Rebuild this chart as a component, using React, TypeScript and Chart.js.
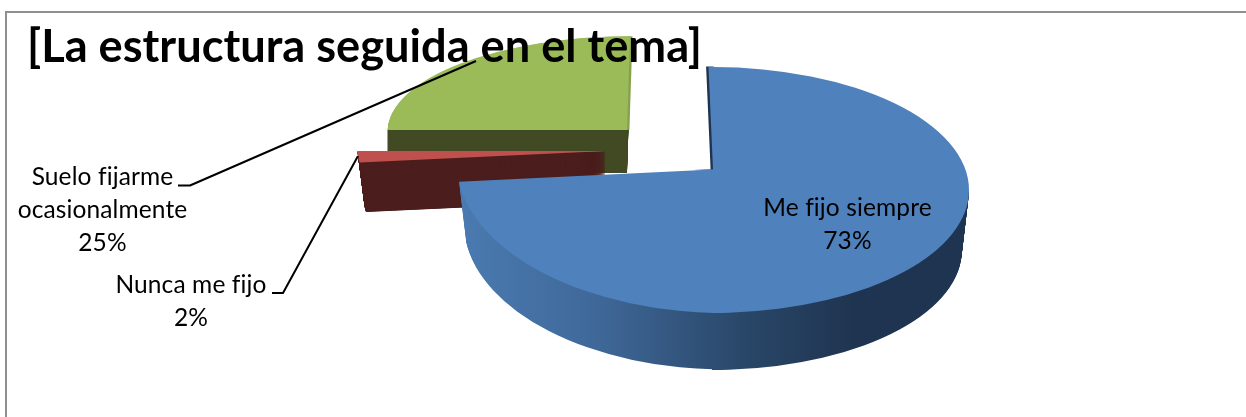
import React, { useEffect, useRef } from "react";
import { Chart, registerables } from "chart.js";

Chart.register(...registerables);

const titleText = "[La estructura seguida en el tema]";
const categories = ["Me fijo siempre", "Nunca me fijo", "Suelo fijarme ocasionalmente"];
const seriesValues = [73, 2, 25];
const labelLines = [["Me fijo siempre"], ["Nunca me fijo"], ["Suelo fijarme", "ocasionalmente"]];

const topColors = ["#4F81BD", "#C0504D", "#9BBB59"];
const FONT = "Lato, 'Open Sans', sans-serif";
const BASE_R = 256;

// how each slice is laid in the tilted, exploded 3D view
const views = [
  { ax: 713, ay: 169.5, sx: 1, syUp: 0.402, syDown: 0.56, skew: 0.023, shearUp: 0.0176, depth: 60.5, shrink: 0.028, step: 1 },
  { ax: 606, ay: 151, sx: 0.97, syUp: 0.355, syDown: 0.355, skew: 0, shearUp: 0, depth: 50, shrink: 0.026, step: 0.25 },
  { ax: 627, ay: 130, sx: 0.935, syUp: 0.366, syDown: 0.366, skew: 0, shearUp: -0.012, depth: 43, shrink: 0, step: 1 },
];
// the big slice's right half follows an ellipse whose centre sits lower than the cut point
const bigRightView = { ax: 713, ay: 190, sx: 1, syUp: 0.48, syDown: 0.48, skew: 0, shearUp: 0 };
const SPLIT_X = 713;

const labelStyles = [
  { x: 847.5, y: 216, lh: 33 },
  { x: 191, y: 293, lh: 33 },
  { x: 102.5, y: 185, lh: 33 },
];
const leaders: number[][][] = [
  [],
  [[272, 293], [283, 293], [358, 156]],
  [[178, 185.5], [190, 185.5], [476, 61]],
];

const blueSideStops: [number, string][] = [
  [0, "#4a7ab0"],
  [0.27, "#3f6899"],
  [0.55, "#2a486a"],
  [0.78, "#1f3450"],
  [1, "#1f3450"],
];
const sideColors: (string | null)[] = [null, "#4d1f1f", "#414a22"];
const rimColors = ["#1f3450", null, "#87a04e"];

function applyView(ctx: any, arc: any, v: any, dy: number, shrink: number, up: boolean) {
  ctx.translate(v.ax, v.ay + dy);
  const k = 1 - shrink;
  ctx.transform(v.sx * k, v.skew * k, up ? v.shearUp : 0, (up ? v.syUp : v.syDown) * k, 0, 0);
  ctx.translate(-arc.x, -arc.y);
}

function drawArc(ctx: any, arc: any, fill: any) {
  const clone = Object.create(arc, {
    options: { value: { ...arc.options, backgroundColor: fill, borderWidth: 0 }, writable: true },
  });
  clone.draw(ctx);
}

// device-space x limits let the big slice be built from separate pieces
function drawHalf(
  ctx: any, arc: any, v: any, up: boolean, dy: number, shrink: number, fill: any,
  dx = 0, xMin = -Infinity, xMax = Infinity
) {
  ctx.save();
  if (xMin !== -Infinity || xMax !== Infinity) {
    const l = Math.max(xMin, 0);
    const r = Math.min(xMax, 5000);
    ctx.beginPath();
    ctx.rect(l, 0, r - l, 5000);
    ctx.clip();
  }
  ctx.translate(dx, 0);
  applyView(ctx, arc, v, dy, shrink, up);
  ctx.beginPath();
  // the upper half runs slightly past the seam so that the lower half covers it
  if (up) ctx.rect(arc.x - 3000, arc.y - 3000, 6000, 3002);
  else ctx.rect(arc.x - 3000, arc.y, 6000, 3000);
  ctx.clip();
  drawArc(ctx, arc, fill);
  ctx.restore();
}

const pie3d = {
  id: "pie3d",
  beforeLayout(chart: any) {
    const block = chart.titleBlock;
    if (block) block._layers = () => [{ z: 5, draw: () => block.draw() }];
  },
  beforeDraw(chart: any) {
    const ctx = chart.ctx;
    ctx.save();
    ctx.fillStyle = "#ffffff";
    ctx.fillRect(0, 0, chart.width, chart.height);
    ctx.strokeStyle = "#8f8f8f";
    ctx.lineWidth = 2;
    ctx.beginPath();
    ctx.moveTo(6, chart.height);
    ctx.lineTo(6, 12);
    ctx.lineTo(chart.width, 12);
    ctx.stroke();
    ctx.restore();
  },
  beforeDatasetDraw(chart: any, args: any) {
    const ctx = chart.ctx;
    const arcs = args.meta.data;
    for (const i of [2, 1, 0]) {
      const arc = arcs[i];
      const v = views[i];
      // side walls
      for (let d = v.depth; d >= v.step; d -= v.step) {
        const s = (v.shrink * d) / v.depth;
        let fill: any = sideColors[i];
        if (!fill) {
          const scale = v.sx * (1 - s);
          const g = ctx.createLinearGradient(
            arc.x + (462 - v.ax) / scale, 0,
            arc.x + (965 - v.ax) / scale, 0
          );
          blueSideStops.forEach(([o, c]) => g.addColorStop(o, c));
          fill = g;
        }
        if (i === 0) {
          drawHalf(ctx, arc, v, false, d, s, fill, 0, -Infinity, SPLIT_X);
          drawHalf(ctx, arc, bigRightView, false, d, s, fill, 0, SPLIT_X - 1, Infinity);
        } else {
          drawHalf(ctx, arc, v, false, d, s, fill);
          drawHalf(ctx, arc, v, true, d, s, fill);
        }
      }
      // narrow wall along the cut edge
      const rim = rimColors[i];
      if (i === 0) {
        drawHalf(ctx, arc, v, true, 0, 0, rim, -2.4, -Infinity, SPLIT_X + 1);
        drawHalf(ctx, arc, v, true, 0, 0, topColors[i], 0, -Infinity, SPLIT_X + 1);
        drawHalf(ctx, arc, v, false, 0, 0, topColors[i], 0, -Infinity, SPLIT_X + 1);
        drawHalf(ctx, arc, bigRightView, true, 0, 0, topColors[i], 0, SPLIT_X, Infinity);
        drawHalf(ctx, arc, bigRightView, false, 0, 0, topColors[i], 0, SPLIT_X, Infinity);
      } else {
        if (rim) drawHalf(ctx, arc, v, true, 0, 0, rim, 2.4);
        drawHalf(ctx, arc, v, true, 0, 0, topColors[i]);
        drawHalf(ctx, arc, v, false, 0, 0, topColors[i]);
      }
    }
    return false;
  },
  afterDatasetsDraw(chart: any) {
    const ctx = chart.ctx;
    ctx.save();
    ctx.strokeStyle = "#000000";
    ctx.lineWidth = 2;
    ctx.lineJoin = "round";
    leaders.forEach((pts) => {
      if (!pts.length) return;
      ctx.beginPath();
      pts.forEach(([x, y], i) => (i ? ctx.lineTo(x, y) : ctx.moveTo(x, y)));
      ctx.stroke();
    });
    ctx.fillStyle = "#000000";
    ctx.font = `24.5px ${FONT}`;
    (ctx as any).letterSpacing = "0.12px";
    ctx.textAlign = "center";
    ctx.textBaseline = "alphabetic";
    categories.forEach((_, i) => {
      const st = labelStyles[i];
      const lines = [...labelLines[i], `${seriesValues[i]}%`];
      lines.forEach((t, n) => ctx.fillText(t, st.x, st.y + n * st.lh));
    });
    ctx.restore();
  },
};

export default function App() {
  const ref = useRef<HTMLCanvasElement>(null);
  useEffect(() => {
    if (!ref.current) return;
    const chart = new Chart(ref.current, {
      type: "pie",
      data: {
        labels: categories,
        datasets: [{ data: seriesValues, backgroundColor: topColors, borderWidth: 0 }],
      },
      options: {
        responsive: false,
        animation: false,
        radius: BASE_R,
        rotation: 0,
        layout: { padding: { left: 27 } },
        plugins: {
          legend: { display: false },
          tooltip: { enabled: false },
          title: {
            display: true,
            text: titleText,
            align: "start",
            color: "#000000",
            font: { family: FONT, size: 45.2, weight: "bold", lineHeight: 1.2 },
            padding: { top: 20, bottom: 0 },
          },
        },
      } as any,
      plugins: [pie3d as any],
    });
    return () => chart.destroy();
  }, []);
  return (
    <div style={{ position: "absolute", left: 0, top: 0, width: 1246, height: 417, overflow: "hidden" }}>
      <canvas ref={ref} width={1246} height={417} style={{ display: "block" }} />
    </div>
  );
}
